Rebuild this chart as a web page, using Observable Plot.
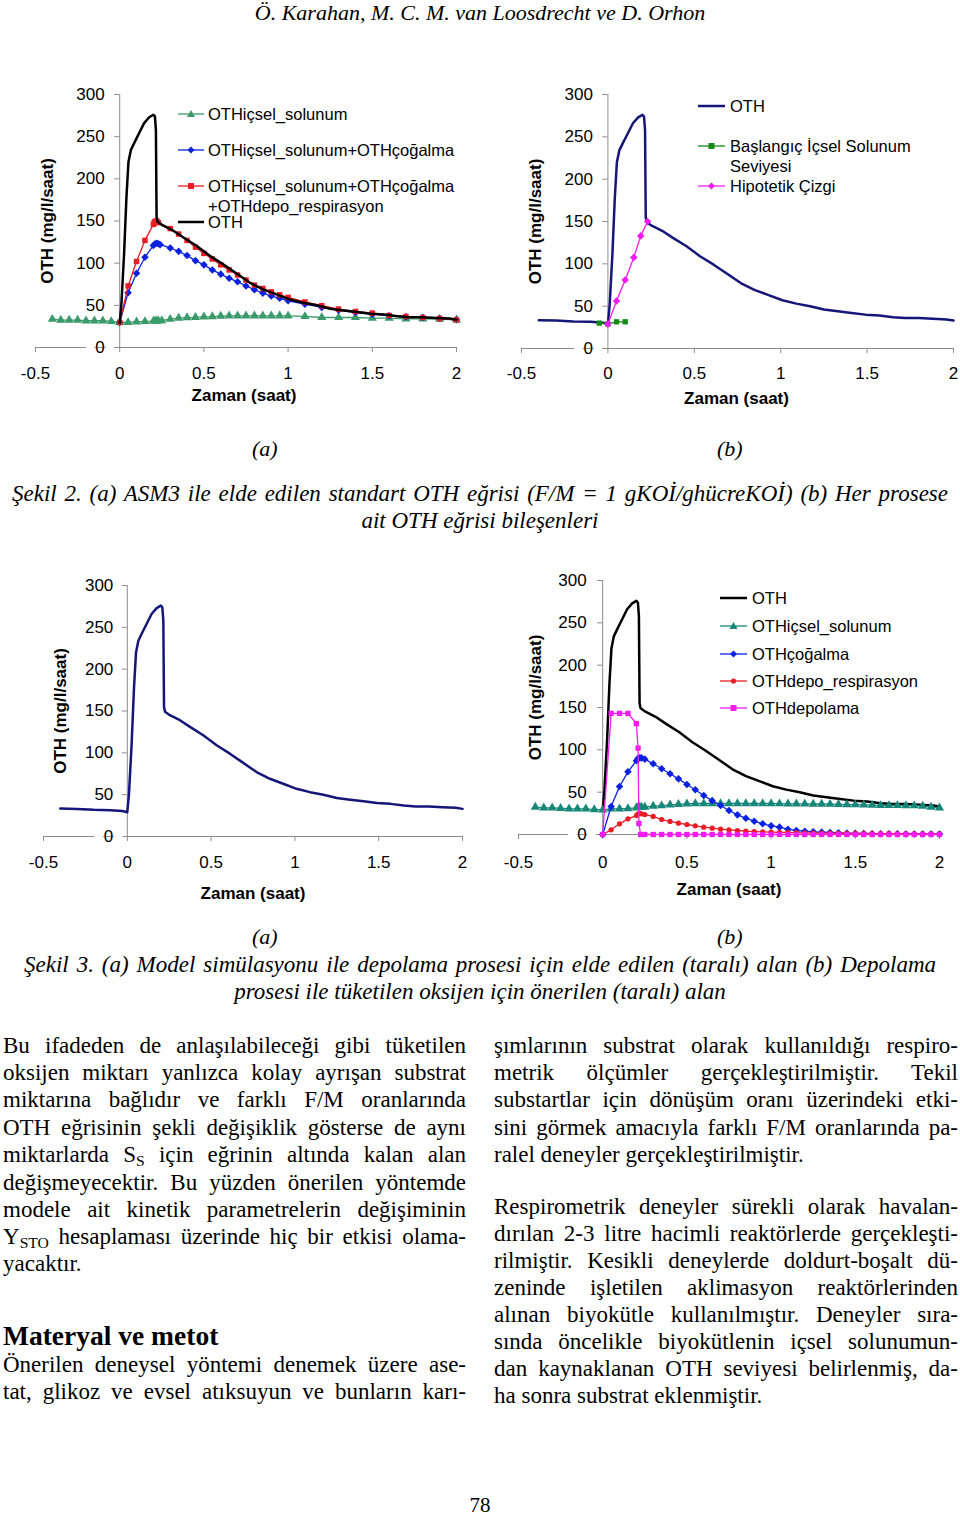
<!DOCTYPE html>
<html><head><meta charset="utf-8">
<script src="https://cdn.jsdelivr.net/npm/d3@7"></script>
<script src="https://cdn.jsdelivr.net/npm/@observablehq/plot@0.6"></script>
<style>
body{margin:0;background:#fff;}
#page{position:relative;width:960px;height:1516px;overflow:hidden;font-family:"Liberation Serif","Times New Roman",serif;color:#000;background:#fff;}
.chart{position:absolute;width:480px;}
.it{position:absolute;font-style:italic;font-size:22px;line-height:28px;white-space:nowrap;}
.cap{position:absolute;font-style:italic;font-size:23px;line-height:28px;}
.ln{position:absolute;font-size:23px;line-height:28px;height:28px;}
.j{text-align:justify;text-align-last:justify;}
.l{text-align:left;white-space:nowrap;}
.c{text-align:center;white-space:nowrap;}
sub{font-size:0.68em;vertical-align:baseline;position:relative;top:0.28em;line-height:0;}
.leg{position:absolute;font-family:"Liberation Sans",Arial,sans-serif;font-size:16.5px;line-height:20px;height:20px;white-space:nowrap;}
.leg span{position:absolute;top:0;}
</style></head><body><div id="page"></div>
<script>
// ---------- axis ticks ----------
const xTicks = [-0.5, 0, 0.5, 1, 1.5, 2];
const yTicks = [0, 50, 100, 150, 200, 250, 300];

// ---------- measured OTH curve (time h, mg/l/h) ----------
const oth = [[-0.4,33.5],[-0.3,33],[-0.2,32],[-0.1,31.5],[-0.03,30.5],[0,29],[0.01,51],[0.026,111],[0.04,178],[0.052,220],[0.066,234],[0.085,242],[0.1,248],[0.115,254],[0.145,266],[0.175,273],[0.2,276],[0.209,274],[0.215,258],[0.219,155],[0.225,149],[0.254,145],[0.314,139],[0.374,131],[0.453,121],[0.533,109],[0.612,99],[0.692,88],[0.771,77],[0.851,69],[0.93,63],[1.01,57],[1.09,53],[1.17,50],[1.25,46],[1.33,44],[1.41,42],[1.49,40],[1.57,39],[1.65,37],[1.72,36],[1.8,36],[1.88,35],[1.96,34.3],[2.0,33]];

// ---------- Şekil 2 (a) ----------
const icselA = [[-0.4,33.6],[-0.35,32.5],[-0.3,32.5],[-0.25,32.5],[-0.2,31.7],[-0.15,31.7],[-0.1,31.7],[-0.05,30.9],[0,29.7],[0.05,29.7],[0.1,30.5],[0.15,30.9],[0.2,31.3],[0.21,31.5],[0.22,31.7],[0.23,31.7],[0.25,32],[0.3,33.6],[0.35,34.8],[0.4,35.5],[0.45,35.8],[0.5,36.4],[0.55,36.6],[0.6,37.2],[0.65,37.5],[0.7,37.5],[0.75,37.5],[0.8,37.5],[0.85,37.5],[0.9,37.5],[0.95,37.5],[1.0,37.6],[1.1,36.8],[1.2,35.6],[1.3,35.6],[1.4,35.6],[1.5,34.8],[1.6,34.8],[1.7,34],[1.8,34],[1.9,33.6],[2.0,32.8]];
const icselCogalmaA = [[0,29.7],[0.05,65],[0.1,88],[0.15,107],[0.2,121],[0.21,123],[0.22,123.5],[0.23,123],[0.24,122],[0.3,118],[0.35,114],[0.4,109],[0.45,103],[0.5,98],[0.55,92],[0.6,87],[0.65,82],[0.7,78],[0.75,73],[0.8,68.5],[0.85,64.5],[0.9,61],[0.95,58.5],[1.0,55.4],[1.1,51.4],[1.2,47.5],[1.3,44.3],[1.4,41.5],[1.5,39.6],[1.6,37.6],[1.7,36.4],[1.8,35.6],[1.9,34.4],[2.0,32.8]];
const icselCogalmaDepoA = [[0,29.7],[0.05,73],[0.1,102],[0.15,127],[0.2,146],[0.205,148],[0.21,149.5],[0.22,150],[0.23,148],[0.3,141],[0.35,134.5],[0.4,127],[0.45,119],[0.5,111.6],[0.55,105],[0.6,98],[0.65,92],[0.7,86],[0.75,80],[0.8,74],[0.85,70],[0.9,66],[0.95,62.5],[1.0,59.4],[1.1,54],[1.2,49.5],[1.3,45.5],[1.4,42.7],[1.5,40.8],[1.6,38],[1.7,36.8],[1.8,35.6],[1.9,34.4],[2.0,32.8]];

// ---------- Şekil 2 (b) ----------
const baslangic = [[-0.05,30],[0,29],[0.05,31.5],[0.1,31.5]];
const hipotetik = [[0,28.8],[0.05,56],[0.1,81],[0.15,107.6],[0.19,133],[0.23,150]];

// ---------- Şekil 3 (b) ----------
const icselB = [[-0.4,32.3],[-0.35,31.5],[-0.3,31.5],[-0.25,31],[-0.2,30.3],[-0.15,30.3],[-0.1,30.3],[-0.05,29.5],[0,29],[0.05,30.3],[0.1,30.3],[0.15,30.7],[0.2,31.5],[0.21,32],[0.22,32.3],[0.23,32.3],[0.25,32.5],[0.3,33.5],[0.35,34],[0.4,35],[0.45,35.6],[0.5,36.2],[0.55,36.6],[0.6,36.6],[0.65,36.6],[0.7,36.6],[0.75,36.6],[0.8,36.6],[0.85,36.6],[0.9,36.6],[0.95,36.6],[1.0,36.6],[1.05,36.4],[1.1,36.2],[1.15,36.2],[1.2,36.2],[1.25,36],[1.3,36],[1.35,35.8],[1.4,35.6],[1.45,35.4],[1.5,35.2],[1.55,35],[1.6,34.6],[1.65,34.3],[1.7,34.3],[1.75,34.3],[1.8,34],[1.85,34],[1.9,33.5],[1.95,32.5],[2.0,31.5]];
const cogalma = [[0,0],[0.05,33],[0.1,56.7],[0.15,74],[0.2,87],[0.21,90],[0.22,90.5],[0.23,90.5],[0.25,89],[0.3,83.5],[0.35,77.6],[0.4,71.7],[0.45,65.7],[0.5,59],[0.55,52.8],[0.6,46],[0.65,40],[0.7,34.3],[0.75,28.3],[0.8,23.2],[0.85,19.3],[0.9,15.7],[0.95,12.6],[1.0,10.2],[1.05,8.7],[1.1,6.3],[1.15,4.7],[1.2,3.9],[1.25,3.2],[1.3,2.8],[1.35,2.4],[1.4,2],[1.45,1.6],[1.5,1.4],[1.55,1.2],[1.6,1],[1.65,1],[1.7,0.8],[1.75,0.8],[1.8,0.6],[1.85,0.6],[1.9,0.5],[1.95,0.5],[2.0,0.5]];
const depoResp = [[0,0],[0.05,5.5],[0.1,12.6],[0.15,18.5],[0.2,22.4],[0.21,24.4],[0.22,24.8],[0.23,24.4],[0.25,23.6],[0.3,21.3],[0.35,17.7],[0.4,15.4],[0.45,13.4],[0.5,11.8],[0.55,10.2],[0.6,8.7],[0.65,7.5],[0.7,6.3],[0.75,5.5],[0.8,4.7],[0.85,3.9],[0.9,3.5],[0.95,3.1],[1.0,2.8],[1.05,2.6],[1.1,2.4],[1.15,2.2],[1.2,2],[1.25,1.8],[1.3,1.7],[1.35,1.6],[1.4,1.5],[1.45,1.4],[1.5,1.3],[1.55,1.2],[1.6,1.1],[1.65,1],[1.7,1],[1.75,0.9],[1.8,0.9],[1.85,0.8],[1.9,0.8],[1.95,0.8],[2.0,0.7]];
const depolama = [[0,0],[0.05,143],[0.1,143],[0.15,143],[0.2,131],[0.21,102],[0.215,13],[0.225,0],[0.25,0],[0.3,0],[0.35,0],[0.4,0],[0.45,0],[0.5,0],[0.55,0],[0.6,0],[0.65,0],[0.7,0],[0.75,0],[0.8,0],[0.85,0],[0.9,0],[0.95,0],[1.0,0],[1.05,0],[1.1,0],[1.15,0],[1.2,0],[1.25,0],[1.3,0],[1.35,0],[1.4,0],[1.45,0],[1.5,0],[1.55,0],[1.6,0],[1.65,0],[1.7,0],[1.75,0],[1.8,0],[1.85,0],[1.9,0],[1.95,0],[2.0,0]];

// ---------- labels ----------
const xTitle = "Zaman (saat)";
const yTitle = "OTH (mg/l/saat)";
const legend1 = ["OTHiçsel_solunum", "OTHiçsel_solunum+OTHçoğalma", "OTHiçsel_solunum+OTHçoğalma<br>+OTHdepo_respirasyon", "OTH"];
const legend2 = ["OTH", "Başlangıç İçsel Solunum<br>Seviyesi", "Hipotetik Çizgi"];
const legend4 = ["OTH", "OTHiçsel_solunum", "OTHçoğalma", "OTHdepo_respirasyon", "OTHdepolama"];

const header = "Ö. Karahan, M. C. M. van Loosdrecht ve D. Orhon";
const cap2 = ["Şekil 2. (a) ASM3 ile elde edilen standart OTH eğrisi (F/M = 1 gKOİ/ghücreKOİ) (b) Her prosese", "ait OTH eğrisi bileşenleri"];
const cap3 = ["Şekil 3. (a) Model simülasyonu ile depolama prosesi için elde edilen (taralı) alan (b) Depolama", "prosesi ile tüketilen oksijen için önerilen (taralı) alan"];
const leftCol = ["Bu ifadeden de anlaşılabileceği gibi tüketilen", "oksijen miktarı yanlızca kolay ayrışan substrat", "miktarına bağlıdır ve farklı F/M oranlarında", "OTH eğrisinin şekli değişiklik gösterse de aynı", "miktarlarda S<sub>S</sub> için eğrinin altında kalan alan", "değişmeyecektir. Bu yüzden önerilen yöntemde", "modele ait kinetik parametrelerin değişiminin", "Y<sub>STO</sub> hesaplaması üzerinde hiç bir etkisi olama-", "yacaktır."];
const heading = "Materyal ve metot";
const leftCol2 = ["Önerilen deneysel yöntemi denemek üzere ase-", "tat, glikoz ve evsel atıksuyun ve bunların karı-"];
const rightCol = ["şımlarının substrat olarak kullanıldığı respiro-", "metrik ölçümler gerçekleştirilmiştir. Tekil", "substartlar için dönüşüm oranı üzerindeki etki-", "sini görmek amacıyla farklı F/M oranlarında pa-", "ralel deneyler gerçekleştirilmiştir."];
const rightCol2 = ["Respirometrik deneyler sürekli olarak havalan-", "dırılan 2-3 litre hacimli reaktörlerde gerçekleşti-", "rilmiştir. Kesikli deneylerde doldurt-boşalt dü-", "zeninde işletilen aklimasyon reaktörlerinden", "alınan biyokütle kullanılmıştır. Deneyler sıra-", "sında öncelikle biyokütlenin içsel solunumun-", "dan kaynaklanan OTH seviyesi belirlenmiş, da-", "ha sonra substrat eklenmiştir."];
const pageNo = "78";

// ---------- colours ----------
const C = {black: "#000000", navy: "#15157a", green: "#3a9a6a", teal: "#17877a", blue: "#0a22e0", red: "#ea1c24", magenta: "#f01cf0", dgreen: "#138a13"};
const AX = "#8c8c8c";

const page = document.getElementById("page");
function add(html, cls, style) {
  const d = document.createElement("div");
  d.className = cls; d.innerHTML = html; Object.assign(d.style, style); page.appendChild(d); return d;
}

function chart(o) {
  const ser = [];
  for (const s of o.series) {
    ser.push(Plot.line(s.data, {x: d => d[0], y: d => d[1], stroke: s.color, strokeWidth: s.lw}));
    if (s.symbol) ser.push(Plot.dot(s.data, {x: d => d[0], y: d => d[1], symbol: s.symbol, r: s.r, fill: s.color, stroke: "none"}));
  }
  const plot = Plot.plot({
    width: 480, height: o.height,
    marginLeft: o.ml, marginRight: o.mr, marginTop: o.mt, marginBottom: o.mb,
    x: {domain: [-0.5, 2], axis: null},
    y: {domain: [0, 300], axis: null},
    style: {fontFamily: '"Liberation Sans", Arial, sans-serif', fontSize: "17px", background: "transparent", color: "black", overflow: "visible"},
    marks: [
      Plot.ruleY([0], {stroke: AX, strokeWidth: 1}),
      Plot.ruleX([0], {y1: 0, y2: 300, stroke: AX, strokeWidth: 1}),
      Plot.ruleX(xTicks, {x: d => d, y1: 0, y2: 0, insetBottom: -5, stroke: AX}),
      Plot.ruleY(yTicks, {y: d => d, x1: 0, x2: 0, insetLeft: -5, stroke: AX}),
      Plot.text(yTicks, {filter: d => d === 0, x: 0, y: d => d, text: d => String(d), textAnchor: "end", dx: o.ydx, fontSize: 17, fill: "white", stroke: "white", strokeWidth: o.halo}),
      Plot.text(yTicks, {x: 0, y: d => d, text: d => String(d), textAnchor: "end", dx: o.ydx, fontSize: 17, fill: "black"}),
      Plot.text(xTicks, {x: d => d, y: 0, text: d => String(d), dy: o.xdy, fontSize: 17, fill: "black"}),
      Plot.text([xTitle], {text: d => d, frameAnchor: "bottom", textAnchor: "middle", lineAnchor: "middle", dx: o.xtdx, dy: o.xtdy, fontSize: 17, fontWeight: "bold", fill: "black"}),
      Plot.text([yTitle], {text: d => d, frameAnchor: "left", textAnchor: "middle", lineAnchor: "middle", rotate: -90, dx: o.ytdx, dy: o.ytdy, fontSize: 17, fontWeight: "bold", fill: "black"}),
      ...ser
    ]
  });
  const div = document.createElement("div");
  div.className = "chart";
  div.style.left = o.left + "px"; div.style.top = o.top + "px";
  div.appendChild(plot);
  page.appendChild(div);
}

function swatch(color, symbol, lw, w) {
  const cx = w / 2, cy = 6;
  let m = "";
  if (symbol === "triangle") m = `<polygon points="${cx},${cy-4} ${cx+4},${cy+3} ${cx-4},${cy+3}" fill="${color}"/>`;
  else if (symbol === "diamond2") m = `<polygon points="${cx},${cy-3.5} ${cx+3.5},${cy} ${cx},${cy+3.5} ${cx-3.5},${cy}" fill="${color}"/>`;
  else if (symbol === "square") m = `<rect x="${cx-3}" y="${cy-3}" width="6" height="6" fill="${color}"/>`;
  else if (symbol === "circle") m = `<circle cx="${cx}" cy="${cy}" r="2.6" fill="${color}"/>`;
  return `<svg width="${w}" height="12" style="position:absolute;left:0;top:4px;overflow:visible"><line x1="0" x2="${w}" y1="${cy}" y2="${cy}" stroke="${color}" stroke-width="${lw}"/>${m}</svg>`;
}
function legend(names, styles, sx, sw, tx, ys) {
  names.forEach((n, i) => {
    const s = styles[i];
    add(swatch(s.color, s.symbol, s.lw, sw) + `<span style="left:${tx - sx}px">${n}</span>`, "leg", {left: sx + "px", top: (ys[i] - 10) + "px"});
  });
}

// ---------- series styles ----------
const sOTHk = {color: C.black, lw: 2.5};
const sOTHn = {color: C.navy, lw: 2.5};
const sIcselA = {color: C.green, lw: 1.3, symbol: "triangle", r: 3.4};
const sBlue = {color: C.blue, lw: 1.3, symbol: "diamond2", r: 3.4};
const sRedSq = {color: C.red, lw: 1.3, symbol: "square", r: 3.1};
const sBas = {color: C.dgreen, lw: 1.3, symbol: "square", r: 3};
const sHip = {color: C.magenta, lw: 1.3, symbol: "diamond2", r: 3.4};
const sIcselB = {color: C.teal, lw: 1.3, symbol: "triangle", r: 3.4};
const sRedC = {color: C.red, lw: 1.3, symbol: "circle", r: 2.6};
const sMag = {color: C.magenta, lw: 1.3, symbol: "square", r: 3};

const othPos = oth.filter(d => d[0] >= 0);

// Şekil 2 (a)
chart({left: 0, top: 70, height: 350, ml: 35, mr: 24, mt: 24, mb: 73, ydx: -15, halo: 20, xdy: 26, xtdx: -2, xtdy: 48, ytdx: 12, ytdy: 0,
  series: [{data: icselA, ...sIcselA}, {data: icselCogalmaA, ...sBlue}, {data: icselCogalmaDepoA, ...sRedSq}, {data: othPos, ...sOTHk}]});
// Şekil 2 (b)
chart({left: 480, top: 70, height: 350, ml: 41, mr: 7, mt: 24, mb: 72, ydx: -15, halo: 20, xdy: 25, xtdx: -1, xtdy: 50, ytdx: 14, ytdy: 0,
  series: [{data: oth, ...sOTHn}, {data: baslangic, ...sBas}, {data: hipotetik, ...sHip}]});
// Şekil 3 (a)
chart({left: 0, top: 560, height: 350, ml: 43, mr: 18, mt: 25, mb: 74, ydx: -14, halo: 20, xdy: 26, xtdx: 0, xtdy: 57, ytdx: 17, ytdy: 0,
  series: [{data: oth, ...sOTHn}]});
// Şekil 3 (b)
chart({left: 480, top: 560, height: 350, ml: 38, mr: 21, mt: 20, mb: 76, ydx: -16, halo: 20, xdy: 28, xtdx: 0, xtdy: 55, ytdx: 17, ytdy: -10,
  series: [{data: othPos, ...sOTHk}, {data: icselB, ...sIcselB}, {data: cogalma, ...sBlue}, {data: depoResp, ...sRedC}, {data: depolama, ...sMag}]});

// legends
legend(legend1, [sIcselA, sBlue, sRedSq, sOTHk], 178, 26, 208, [114, 150, 186, 222]);
legend(legend2, [sOTHn, sBas, sHip], 698, 27, 730, [106, 146, 186]);
legend(legend4, [sOTHk, sIcselB, sBlue, sRedC, sMag], 720, 27, 752, [598, 626, 654, 681, 708]);

// page text
add(header, "it c", {left: "0px", width: "960px", top: "-1px", fontSize: "22px"});
add("(a)", "it", {left: "252px", top: "435px"});
add("(b)", "it", {left: "717px", top: "435px"});
add(cap2[0], "cap j", {left: "12px", width: "936px", top: "480px"});
add(cap2[1], "cap c", {left: "0px", width: "960px", top: "507px"});
add("(a)", "it", {left: "252px", top: "923px"});
add("(b)", "it", {left: "717px", top: "923px"});
add(cap3[0], "cap j", {left: "24px", width: "912px", top: "951px"});
add(cap3[1], "cap c", {left: "0px", width: "960px", top: "978px"});

const lTops = [1047, 1074, 1101, 1129, 1156, 1184, 1211, 1238, 1265];
leftCol.forEach((t, i) => add(t, "ln " + (i === leftCol.length - 1 ? "l" : "j"), {left: "3px", width: "463px", top: (lTops[i] - 15) + "px"}));
add(heading, "ln l", {left: "3px", top: (1337 - 16) + "px", fontSize: "27.5px", fontWeight: "bold", lineHeight: "30px"});
const l2Tops = [1366, 1393];
leftCol2.forEach((t, i) => add(t, "ln j", {left: "3px", width: "463px", top: (l2Tops[i] - 15) + "px"}));
const rTops = [1047, 1074, 1101, 1129, 1156];
rightCol.forEach((t, i) => add(t, "ln " + (i === rightCol.length - 1 ? "l" : "j"), {left: "494px", width: "464px", top: (rTops[i] - 15) + "px"}));
const r2Tops = [1208, 1235, 1262, 1289, 1316, 1343, 1370, 1397];
rightCol2.forEach((t, i) => add(t, "ln " + (i === rightCol2.length - 1 ? "l" : "j"), {left: "494px", width: "464px", top: (r2Tops[i] - 15) + "px"}));
add(pageNo, "ln c", {left: "0px", width: "960px", top: "1495px", fontSize: "21px", lineHeight: "20px", height: "20px"});
</script></body></html>
